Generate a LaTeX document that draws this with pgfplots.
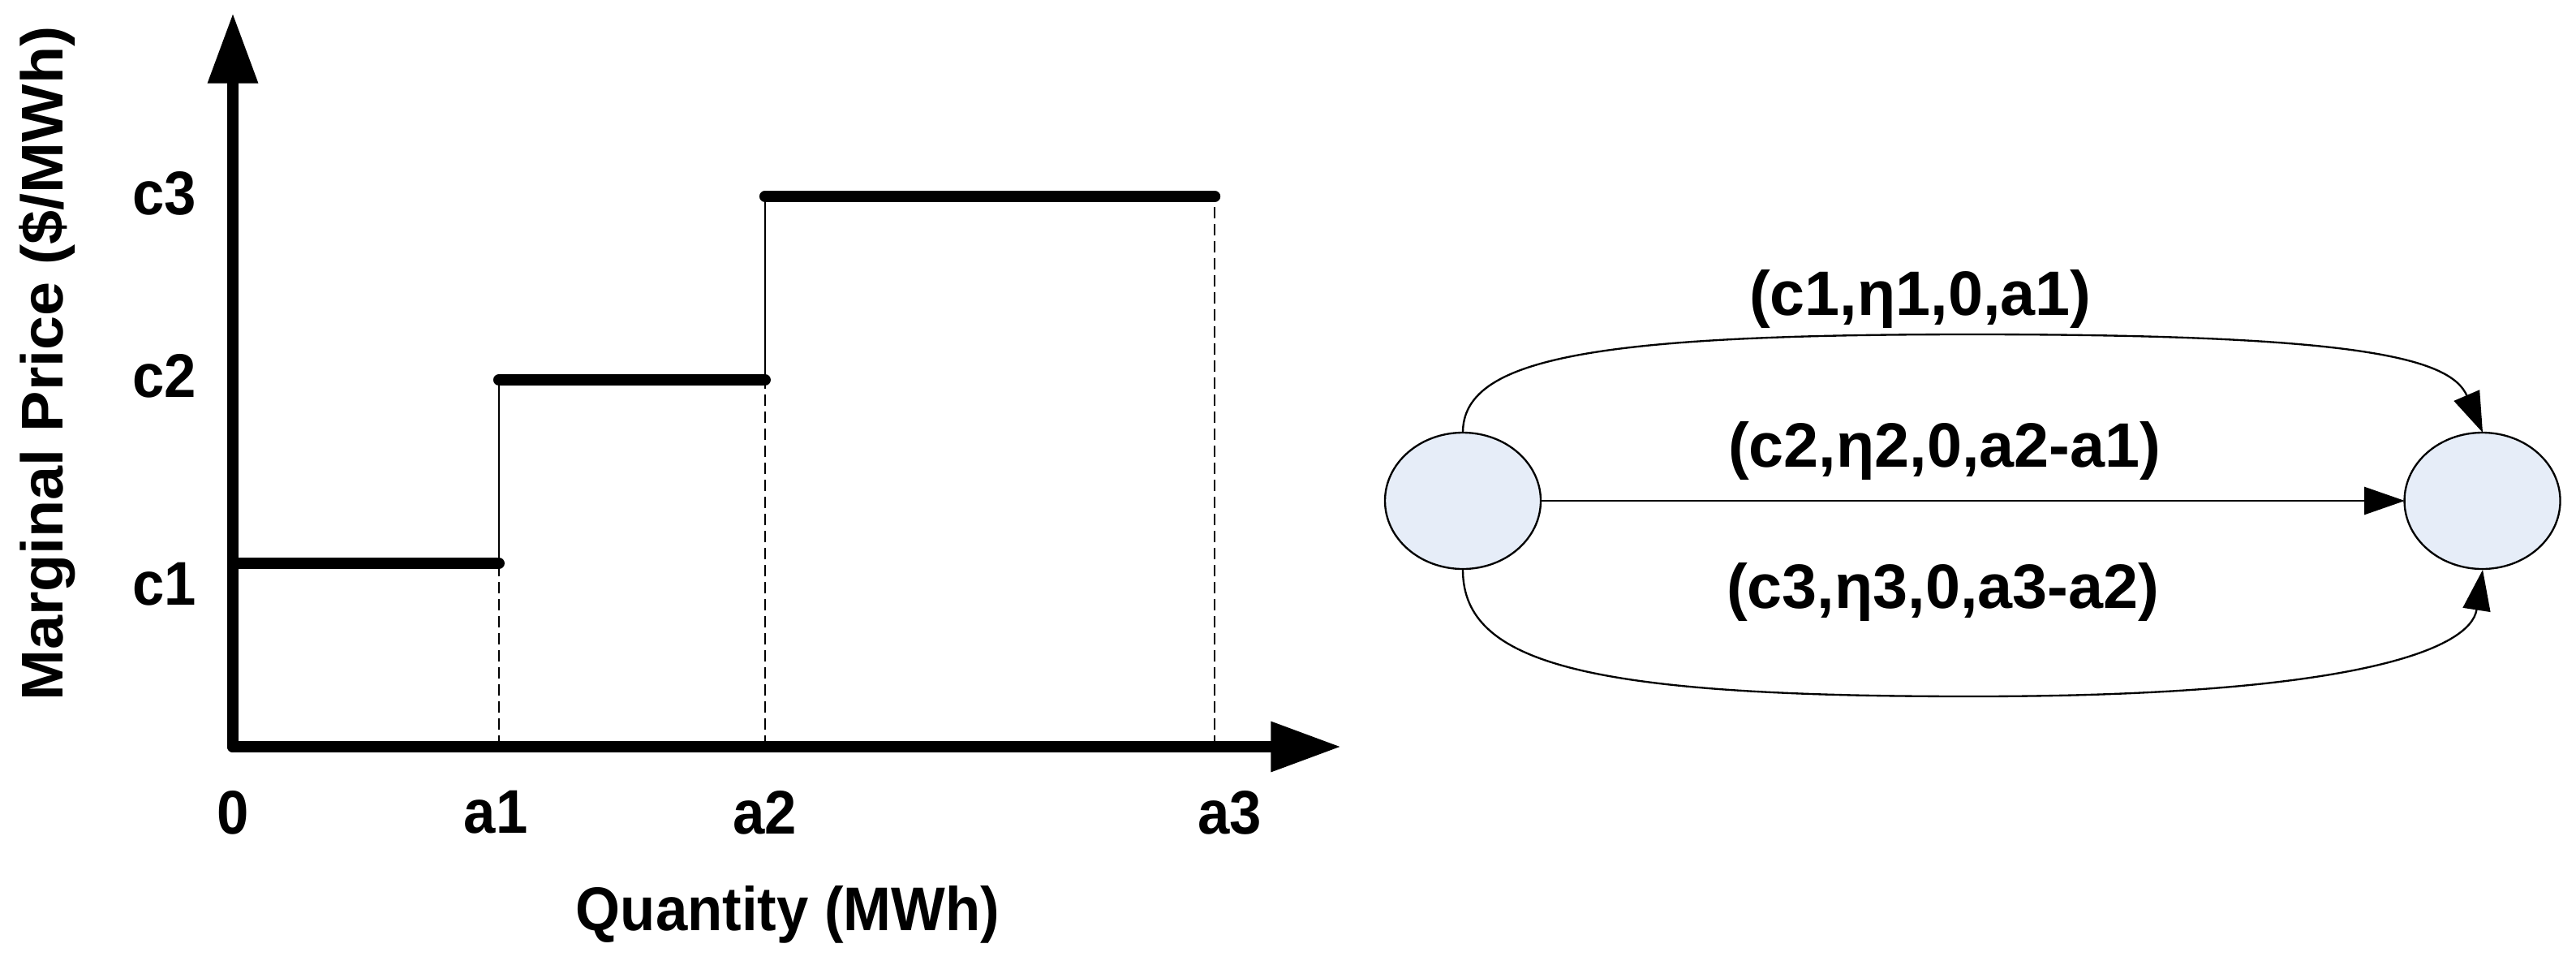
\documentclass[border=0pt]{standalone}
\usepackage{fontspec}
\setmainfont{Liberation Sans}[FakeStretch=0.93]
\newfontfamily\ylabfont{Liberation Sans}[FakeStretch=1.04]
\newfontfamily\netfont{Liberation Sans}
\usepackage{pgfplots}
\pgfplotsset{compat=1.18}
\usetikzlibrary{arrows.meta}

\definecolor{nodefill}{HTML}{E6EDF8}
\newcommand{\lab}{\bfseries\fontsize{11.4}{13}\selectfont}
\newcommand{\ylab}{\ylabfont\bfseries\fontsize{10.9}{12}\selectfont}
\newcommand{\netlab}{\netfont\bfseries\fontsize{11.6}{13}\selectfont}

% price steps: (quantity, marginal price), nan breaks the line
\pgfplotstableread{
x y
0 1
1 1
nan nan
1 2
2 2
nan nan
2 3
3.69 3
}\steps

\begin{document}
\begin{tikzpicture}
\path[use as bounding box] (0pt,0pt) rectangle (476.25pt,177.45pt);

\begin{axis}[
    at={(43.05pt,39.45pt)}, anchor=south west,
    scale only axis, width=204.9pt, height=135.6pt,
    xmin=0, xmax=4.165, ymin=0, ymax=4,
    axis lines=left,
    axis line style={line width=2.1pt, line cap=round, -{Triangle[length=13pt,width=8.8pt]}},
    major tick length=0pt,
    xtick={0,0.988,2,3.747}, xticklabels={0,a1,a2,a3},
    ytick={0.885,2.022,3.018}, yticklabels={c1,c2,c3},
    tick label style={font=\lab},
    xticklabel style={anchor=north, inner sep=0pt, yshift=-7.95pt},
    yticklabel style={anchor=east, inner sep=0pt, xshift=-6.6pt},
    xlabel={Quantity (MWh)},
    ylabel={Marginal Price (\$/MWh)},
    xlabel style={at={(axis description cs:0.5007,0)}, anchor=base, yshift=-33.9pt, font=\lab},
    ylabel style={at={(axis description cs:-0.1537,0.5221)}, anchor=base, font=\ylab},
    unbounded coords=jump,
    clip=false,
]
% dashed drop lines
\addplot[line width=0.3pt, dash pattern=on 2.1pt off 1.05pt] coordinates {(1,0) (1,1)};
\addplot[line width=0.3pt, dash pattern=on 2.1pt off 1.05pt] coordinates {(2,0) (2,2)};
\addplot[line width=0.3pt, dash pattern=on 2.1pt off 1.05pt] coordinates {(3.69,0) (3.69,3)};
% risers
\addplot[line width=0.4pt] coordinates {(1,1) (1,2)};
\addplot[line width=0.4pt] coordinates {(2,2) (2,3)};
% steps
\addplot[line width=2.1pt, line cap=round] table[x=x, y=y] {\steps};
\end{axis}

% network diagram
\filldraw[fill=nodefill, line width=0.35pt] (270.45pt,84.9pt) ellipse [x radius=14.4pt, y radius=12.6pt];
\filldraw[fill=nodefill, line width=0.35pt] (458.93pt,84.9pt) ellipse [x radius=14.4pt, y radius=12.6pt];

\draw[line width=0.4pt, -{Triangle[length=7.5pt,width=5.1pt]}] (284.85pt,84.9pt) -- (444.6pt,84.9pt);

\draw[line width=0.35pt, -{Triangle[length=7.5pt,width=5.1pt]}]
  (270.45pt,97.5pt) .. controls (270.45pt,111.15pt) and (294pt,115.65pt) .. (364.5pt,115.65pt)
  .. controls (435.3pt,115.65pt) and (453pt,111.45pt) .. (459pt,97.5pt);

\draw[line width=0.35pt, -{Triangle[length=7.5pt,width=5.1pt]}]
  (270.45pt,72.15pt) .. controls (270.45pt,54.6pt) and (294pt,48.75pt) .. (364.5pt,48.75pt)
  .. controls (435.3pt,48.75pt) and (456.75pt,57.45pt) .. (459pt,72.15pt);

\node[anchor=base, inner sep=0pt, font=\netlab] at (355pt,119.25pt) {(c1,η1,0,a1)};
\node[anchor=base, inner sep=0pt, font=\netlab] at (359.5pt,91.2pt) {(c2,η2,0,a2-a1)};
\node[anchor=base, inner sep=0pt, font=\netlab] at (359.2pt,65.1pt) {(c3,η3,0,a3-a2)};
\end{tikzpicture}
\end{document}
